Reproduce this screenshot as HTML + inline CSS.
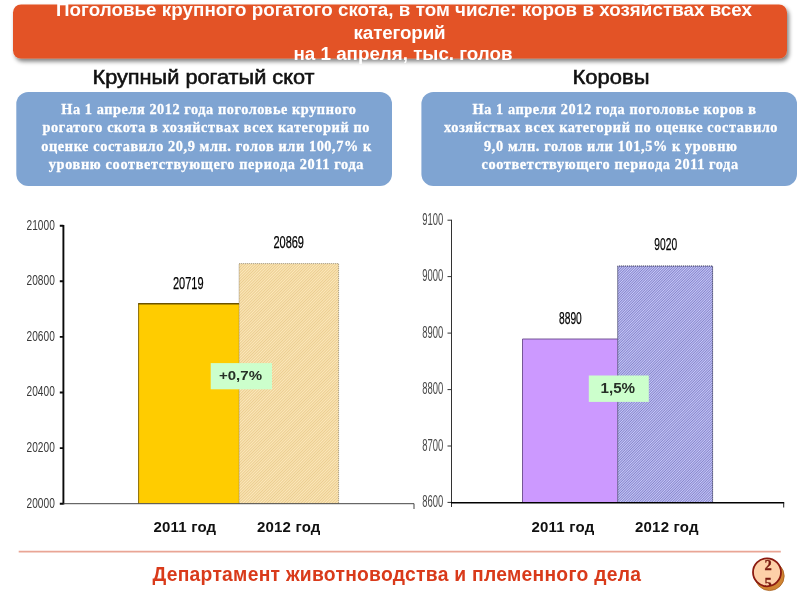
<!DOCTYPE html>
<html lang="ru">
<head>
<meta charset="utf-8">
<title>Поголовье крупного рогатого скота</title>
<style>
html,body{margin:0;padding:0;background:#fff;}
body{width:800px;height:600px;overflow:hidden;position:relative;font-family:"Liberation Sans",sans-serif;}
svg{position:absolute;left:0;top:0;display:block;will-change:transform;}
.hd{font-family:"Liberation Sans",sans-serif;font-weight:bold;font-size:18.8px;fill:#fff;text-anchor:middle;}
.ttl{font-family:"Liberation Sans",sans-serif;font-size:19.3px;fill:#111;stroke:#111;stroke-width:0.55px;}
.bx{font-family:"Liberation Serif",serif;font-weight:bold;font-size:14.3px;fill:#fff;stroke:#fff;stroke-width:0.3px;}
.ax{font-family:"Liberation Sans",sans-serif;font-size:14.6px;fill:#3a3a3a;}
.dl{font-family:"Liberation Sans",sans-serif;font-size:15.8px;fill:#000;stroke:#000;stroke-width:0.25px;}
.xl{font-family:"Liberation Sans",sans-serif;font-weight:bold;font-size:15px;fill:#111;}
.pc{font-family:"Liberation Sans",sans-serif;font-weight:bold;font-size:14px;fill:#263026;}
.ft{font-family:"Liberation Sans",sans-serif;font-weight:bold;font-size:19.3px;fill:#d93a1a;}
.pg{font-family:"Liberation Serif",serif;font-weight:bold;font-size:14.5px;fill:#7a1a10;stroke:#7a1a10;stroke-width:0.35px;text-anchor:middle;}
</style>
</head>
<body>
<svg width="800" height="600" viewBox="0 0 800 600">
<defs>
  <filter id="sh" x="-5%" y="-20%" width="110%" height="150%">
    <feGaussianBlur in="SourceAlpha" stdDeviation="1.9"/>
    <feOffset dx="1.5" dy="2.5" result="o"/>
    <feComponentTransfer><feFuncA type="linear" slope="0.5"/></feComponentTransfer>
    <feMerge><feMergeNode/><feMergeNode in="SourceGraphic"/></feMerge>
  </filter>
  <pattern id="h1" width="2" height="2" patternUnits="userSpaceOnUse" patternTransform="rotate(-45)">
    <rect width="2" height="2" fill="#fce8bb"/>
    <rect width="2" height="0.85" fill="#e9c989"/>
  </pattern>
  <pattern id="h2" width="1.8" height="1.8" patternUnits="userSpaceOnUse" patternTransform="rotate(-45)">
    <rect width="1.8" height="1.8" fill="#c8c8f8"/>
    <rect width="1.8" height="0.9" fill="#8686cc"/>
  </pattern>
  <clipPath id="cc"><circle cx="767" cy="572.3" r="13.4"/></clipPath>
</defs>

<!-- header -->
<rect x="13" y="4.5" width="774" height="54" rx="8" ry="8" fill="#e35225" filter="url(#sh)"/>
<text class="hd" x="404" y="16" textLength="696" lengthAdjust="spacing">Поголовье крупного рогатого скота, в том числе: коров в хозяйствах всех</text>
<text class="hd" x="399.6" y="38.9" textLength="92" lengthAdjust="spacing">категорий</text>
<text class="hd" x="403" y="60.3" textLength="219" lengthAdjust="spacing">на 1 апреля, тыс. голов</text>

<!-- titles -->
<text class="ttl" x="92.5" y="83.6" textLength="222" lengthAdjust="spacingAndGlyphs">Крупный рогатый скот</text>
<text class="ttl" x="572.5" y="83.6" textLength="77" lengthAdjust="spacingAndGlyphs">Коровы</text>

<!-- blue boxes -->
<rect x="16.3" y="92" width="375.7" height="94" rx="12" ry="12" fill="#7fa4d2"/>
<rect x="421.4" y="92" width="375.6" height="94" rx="12" ry="12" fill="#7fa4d2"/>
<g class="bx">
<text x="61.3" y="113.8" textLength="294.7" lengthAdjust="spacing">На 1 апреля 2012 года поголовье крупного</text>
<text x="42.5" y="132.3" textLength="327" lengthAdjust="spacing">рогатого скота в хозяйствах всех категорий по</text>
<text x="41.3" y="150.8" textLength="330" lengthAdjust="spacing">оценке составило 20,9 млн. голов или 100,7% к</text>
<text x="48.8" y="169.3" textLength="314.7" lengthAdjust="spacing">уровню соответствующего периода 2011 года</text>
<text x="472.5" y="113.8" textLength="283.5" lengthAdjust="spacing">На 1 апреля 2012 года поголовье коров в</text>
<text x="444" y="132.3" textLength="333.5" lengthAdjust="spacing">хозяйствах всех категорий по оценке составило</text>
<text x="484" y="150.8" textLength="253" lengthAdjust="spacing">9,0 млн. голов или 101,5% к уровню</text>
<text x="481.6" y="169.3" textLength="256.5" lengthAdjust="spacing">соответствующего периода 2011 года</text>
</g>

<!-- left chart -->
<g>
<rect x="138.6" y="304" width="100.5" height="199.5" fill="#ffcc00"/>
<path d="M138.6,503.5 V304" fill="none" stroke="#8a6a00" stroke-width="1"/><path d="M138.1,303.8 H239.3" fill="none" stroke="#6b5200" stroke-width="1.5"/>
<rect x="239.1" y="263.6" width="99.5" height="240" fill="url(#h1)"/>
<path d="M239.1,503.5 V263.6 H338.6 V503.5" fill="none" stroke="#6f6248" stroke-width="0.9" stroke-dasharray="1 1" stroke-opacity="0.75"/>
<path d="M63.4,225 V504.6 M59.8,225.7 H63.4 M59.8,281.3 H63.4 M59.8,336.9 H63.4 M59.8,392.5 H63.4 M59.8,448.1 H63.4 M59.8,503.7 H63.4" fill="none" stroke="#0a0a0a" stroke-width="1.9"/>
<path d="M63.4,503.7 H414 V509" fill="none" stroke="#444" stroke-width="1"/>
<g class="ax">
<text x="26.6" y="229.5" textLength="28.2" lengthAdjust="spacingAndGlyphs">21000</text>
<text x="26.6" y="285.1" textLength="28.2" lengthAdjust="spacingAndGlyphs">20800</text>
<text x="26.6" y="340.7" textLength="28.2" lengthAdjust="spacingAndGlyphs">20600</text>
<text x="26.6" y="396.3" textLength="28.2" lengthAdjust="spacingAndGlyphs">20400</text>
<text x="26.6" y="451.9" textLength="28.2" lengthAdjust="spacingAndGlyphs">20200</text>
<text x="26.6" y="507.5" textLength="28.2" lengthAdjust="spacingAndGlyphs">20000</text>
</g>
<text class="dl" x="173" y="289" textLength="30.6" lengthAdjust="spacingAndGlyphs">20719</text>
<text class="dl" x="273.4" y="247.5" textLength="30.6" lengthAdjust="spacingAndGlyphs">20869</text>
<rect x="210.7" y="363.1" width="61.3" height="26.2" fill="#ccffcc"/>
<text class="pc" x="219" y="380.4" textLength="43" lengthAdjust="spacingAndGlyphs" style="font-size:13.5px">+0,7%</text>
<text class="xl" x="153.4" y="532.3" textLength="62.7" lengthAdjust="spacing">2011 год</text>
<text class="xl" x="257" y="532.3" textLength="63.3" lengthAdjust="spacing">2012 год</text>
</g>

<!-- right chart -->
<g>
<rect x="522.5" y="339" width="95.2" height="163.8" fill="#cc99ff"/>
<path d="M522.5,502.5 V339 H617.7" fill="none" stroke="#6a4a8a" stroke-width="0.9"/>
<rect x="617.7" y="266" width="95" height="236.8" fill="url(#h2)"/>
<path d="M617.7,502.5 V266 H712.6 V502.5" fill="none" stroke="#15153a" stroke-width="1" stroke-dasharray="1 1"/>
<path d="M451.5,219.8 V507 M447.5,220.2 H451.7 M447.5,276.6 H451.7 M447.5,333.1 H451.7 M447.5,389.6 H451.7 M447.5,446.0 H451.7 M447.5,502.4 H451.7" fill="none" stroke="#333" stroke-width="1"/>
<path d="M451,502.8 H784.2" fill="none" stroke="#000" stroke-width="1.5"/><path d="M783.7,502.8 V507.5" fill="none" stroke="#222" stroke-width="1"/>
<g class="ax" style="font-size:16.8px;fill:#484848">
<text x="422.3" y="224.9" textLength="21" lengthAdjust="spacingAndGlyphs">9100</text>
<text x="422.3" y="281.3" textLength="21" lengthAdjust="spacingAndGlyphs">9000</text>
<text x="422.3" y="337.8" textLength="21" lengthAdjust="spacingAndGlyphs">8900</text>
<text x="422.3" y="394.2" textLength="21" lengthAdjust="spacingAndGlyphs">8800</text>
<text x="422.3" y="450.7" textLength="21" lengthAdjust="spacingAndGlyphs">8700</text>
<text x="422.3" y="507.1" textLength="21" lengthAdjust="spacingAndGlyphs">8600</text>
</g>
<text class="dl" x="559" y="324" textLength="22.8" lengthAdjust="spacingAndGlyphs" style="font-size:16.8px">8890</text>
<text class="dl" x="654.3" y="250.2" textLength="22.8" lengthAdjust="spacingAndGlyphs" style="font-size:16.8px">9020</text>
<rect x="588.8" y="375.5" width="60" height="26.4" fill="#ccffcc"/>
<text class="pc" x="600.5" y="392.7" textLength="34.6" lengthAdjust="spacingAndGlyphs" style="font-size:13.8px">1,5%</text>
<text class="xl" x="531.5" y="532.3" textLength="62.7" lengthAdjust="spacing">2011 год</text>
<text class="xl" x="635" y="532.3" textLength="63.5" lengthAdjust="spacing">2012 год</text>
</g>

<!-- footer -->
<path d="M18.7,551.6 H780.8" stroke="#e9a595" stroke-width="1.6"/>
<text class="ft" x="152.4" y="581" textLength="488.5" lengthAdjust="spacing">Департамент животноводства и племенного дела</text>

<!-- page badge -->
<circle cx="769.6" cy="576" r="14.6" fill="#d08432" stroke="#a8621f" stroke-width="0.8"/>
<circle cx="767" cy="572.3" r="14" fill="#fdd0a8" stroke="#8b1a10" stroke-width="1.8"/>
<g clip-path="url(#cc)">
<text class="pg" x="768" y="569.8">2</text>
<text class="pg" x="768" y="588">5</text>
</g>
</svg>
</body>
</html>
